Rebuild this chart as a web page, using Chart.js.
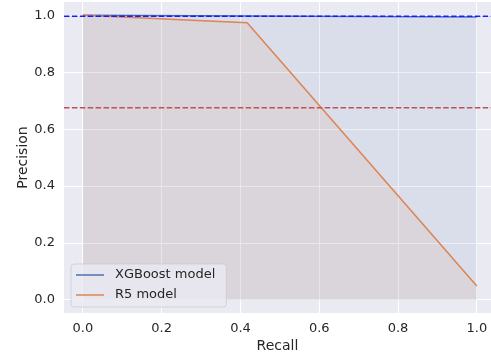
<!DOCTYPE html>
<html>
<head>
<meta charset="utf-8">
<script src="https://cdn.jsdelivr.net/npm/chart.js@4/dist/chart.umd.min.js"></script>
<style>
  html, body { margin: 0; padding: 0; background: #fff; }
  #wrap { width: 491px; height: 354px; }
</style>
</head>
<body>
<div id="wrap"><canvas id="prChart" width="491" height="354"></canvas></div>
<script>
// データ
const xgbRecall = [0.0, 1.0];
const xgbPrecision = [1.0, 0.994];
const r5Recall = [0.0, 0.417, 1.0];
const r5Precision = [1.0, 0.974, 0.049];

// 基準線
const refLines = [0.997, 0.675];
const refColors = ['#1a1aff', '#c44e52'];

const xTicks = [0.0, 0.2, 0.4, 0.6, 0.8, 1.0];
const yTicks = [0.0, 0.2, 0.4, 0.6, 0.8, 1.0];
const xRange = [-0.048, 1.036];
const yRange = [-0.046, 1.047];

const seriesLabels = ['XGBoost model', 'R5 model'];
const seriesColors = ['#4c72b0', '#dd8452'];

const textColor = '#262626';
const fontFamily = '"DejaVu Sans", sans-serif';

const toPoints = (xs, ys) => xs.map((x, i) => ({ x: x, y: ys[i] }));

// 背景
const bgPlugin = {
  id: 'plotBg',
  beforeDraw(chart) {
    const { ctx, chartArea: a } = chart;
    ctx.save();
    ctx.fillStyle = '#eaeaf2';
    ctx.fillRect(a.left, a.top, a.right - a.left, a.bottom - a.top);
    ctx.restore();
  }
};

// 水平の破線
const refPlugin = {
  id: 'refLines',
  afterDatasetsDraw(chart) {
    const { ctx, chartArea: a, scales } = chart;
    ctx.save();
    ctx.lineWidth = 1.5;
    ctx.setLineDash([5.5, 2.4]);
    refLines.forEach((v, i) => {
      const y = scales.y.getPixelForValue(v);
      ctx.strokeStyle = refColors[i];
      ctx.beginPath();
      ctx.moveTo(a.left, y);
      ctx.lineTo(a.right, y);
      ctx.stroke();
    });
    ctx.restore();
  }
};

// 凡例 (プロット内左下)
const legendPlugin = {
  id: 'innerLegend',
  afterDraw(chart) {
    const { ctx, chartArea: a } = chart;
    ctx.save();
    ctx.font = '13px ' + fontFamily;
    const textW = Math.max(...seriesLabels.map(t => ctx.measureText(t).width));
    const w = 44 + textW + 11;
    const h = 43;
    const x = a.left + 7;
    const y = a.bottom - 6 - h;
    ctx.beginPath();
    ctx.roundRect(x, y, w, h, 3);
    ctx.fillStyle = 'rgba(234,234,242,0.8)';
    ctx.fill();
    ctx.strokeStyle = 'rgba(204,204,210,0.8)';
    ctx.lineWidth = 1;
    ctx.stroke();
    seriesLabels.forEach((label, i) => {
      const ly = y + 11 + i * 20;
      ctx.strokeStyle = seriesColors[i];
      ctx.lineWidth = 1.5;
      ctx.beginPath();
      ctx.moveTo(x + 5, ly);
      ctx.lineTo(x + 33, ly);
      ctx.stroke();
      ctx.fillStyle = textColor;
      ctx.textBaseline = 'middle';
      ctx.fillText(label, x + 44, ly);
    });
    ctx.restore();
  }
};

new Chart(document.getElementById('prChart'), {
  type: 'scatter',
  data: {
    datasets: [{
      label: seriesLabels[1],
      data: toPoints(r5Recall, r5Precision),
      showLine: true,
      borderColor: seriesColors[1],
      backgroundColor: 'rgba(221,132,82,0.1)',
      borderWidth: 1.5,
      pointRadius: 0,
      fill: 'origin',
      order: 1
    }, {
      label: seriesLabels[0],
      data: toPoints(xgbRecall, xgbPrecision),
      showLine: true,
      borderColor: seriesColors[0],
      backgroundColor: 'rgba(76,114,176,0.1)',
      borderWidth: 1.5,
      pointRadius: 0,
      fill: 'origin',
      order: 2
    }]
  },
  options: {
    responsive: false,
    animation: false,
    layout: { padding: { top: 2, right: 0, bottom: 0, left: 0 } },
    plugins: {
      legend: { display: false },
      tooltip: { enabled: false }
    },
    scales: {
      x: {
        type: 'linear',
        min: xRange[0],
        max: xRange[1],
        afterBuildTicks: s => { s.ticks = xTicks.map(v => ({ value: v })); },
        afterFit: s => { s.height = 41; s.paddingLeft = 0; s.paddingRight = 0; },
        grid: { color: '#ffffff', lineWidth: 1, drawTicks: false },
        border: { display: false },
        ticks: {
          padding: 8,
          color: textColor,
          font: { family: fontFamily, size: 13 },
          callback: v => v.toFixed(1)
        },
        title: {
          display: true,
          text: 'Recall',
          color: textColor,
          font: { family: fontFamily, size: 14 },
          padding: { top: 0, bottom: -1 }
        }
      },
      y: {
        type: 'linear',
        min: yRange[0],
        max: yRange[1],
        afterBuildTicks: s => { s.ticks = yTicks.map(v => ({ value: v })); },
        afterFit: s => { s.width = 64; s.paddingTop = 0; s.paddingBottom = 0; },
        grid: { color: '#ffffff', lineWidth: 1, drawTicks: false },
        border: { display: false },
        ticks: {
          padding: 9,
          color: textColor,
          font: { family: fontFamily, size: 13 },
          callback: v => v.toFixed(1)
        },
        title: {
          display: true,
          text: 'Precision',
          color: textColor,
          font: { family: fontFamily, size: 14 },
          padding: { top: 15, bottom: 0 }
        }
      }
    }
  },
  plugins: [bgPlugin, refPlugin, legendPlugin]
});
</script>
</body>
</html>
